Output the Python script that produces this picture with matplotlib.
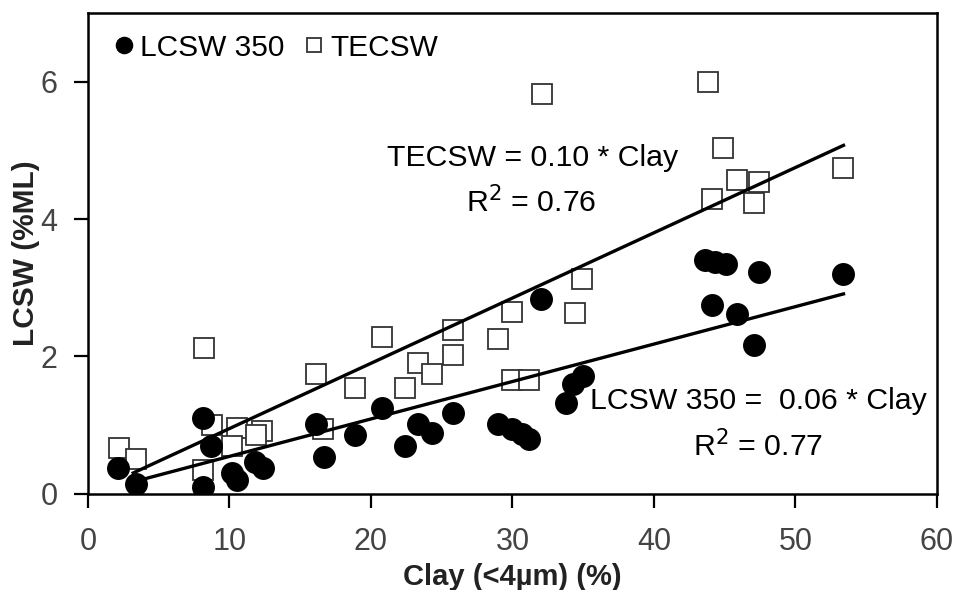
import matplotlib.pyplot as plt
import numpy as np

plt.rcParams['font.family'] = ['Liberation Sans', 'DejaVu Sans']

# TECSW (open squares)
tec_clay = [2.2, 3.4, 8.2, 8.8, 8.1, 10.5, 10.2, 12.3, 11.9, 16.1, 16.6,
            20.8, 18.9, 22.4, 23.3, 24.3, 25.8, 25.8, 29.0, 30.0, 30.0, 31.2,
            34.9, 34.4, 32.1, 43.8, 44.9, 45.9, 47.4, 44.1, 47.1, 53.4]
tec_val = [0.66, 0.51, 2.13, 1.00, 0.35, 0.96, 0.69, 0.92, 0.86, 1.74, 0.95,
           2.28, 1.54, 1.54, 1.91, 1.74, 2.39, 2.02, 2.26, 2.65, 1.65, 1.65,
           3.13, 2.63, 5.82, 6.00, 5.04, 4.57, 4.54, 4.29, 4.23, 4.74]

# LCSW 350 (filled dots)
lc_clay = [2.1, 3.4, 8.1, 8.1, 8.7, 10.2, 10.5, 11.8, 12.4, 16.1, 16.7,
           18.9, 20.8, 22.4, 23.3, 24.3, 25.8, 29.0, 30.0, 30.7, 31.2, 32.0,
           33.8, 34.3, 35.0, 43.6, 44.3, 45.1, 47.4, 44.1, 45.9, 47.1, 53.4]
lc_val = [0.38, 0.15, 0.10, 1.10, 0.70, 0.30, 0.20, 0.46, 0.37, 1.01, 0.53,
          0.85, 1.25, 0.69, 1.01, 0.89, 1.18, 1.01, 0.95, 0.87, 0.80, 2.84,
          1.32, 1.60, 1.71, 3.40, 3.37, 3.34, 3.23, 2.75, 2.62, 2.16, 3.20]

# fitted lines (through origin), drawn over the fitted clay range
tec_slope = 0.095
lc_slope = 0.0545
tec_range = [3.2, 53.4]
lc_range = [3.6, 53.4]

fig = plt.figure(figsize=(9.56, 5.9), dpi=100)
ax = fig.add_axes([0.092, 0.163, 0.888, 0.815])

ax.plot(lc_clay, lc_val, linestyle='none', marker='o', markersize=15.5,
        color='black', label='LCSW 350', zorder=3)
ax.plot(tec_clay, tec_val, linestyle='none', marker='s', markersize=14,
        markerfacecolor='white', markeredgecolor='#333333', markeredgewidth=1.3,
        label='TECSW', zorder=2)

xs = np.array(tec_range)
ax.plot(xs, tec_slope * xs, color='black', linewidth=2.4, zorder=4)
xs = np.array(lc_range)
ax.plot(xs, lc_slope * xs, color='black', linewidth=2.4, zorder=4)

ax.text(31.4, 4.89, 'TECSW = 0.10 * Clay', ha='center', va='center', fontsize=21.8)
ax.text(31.3, 4.24, 'R$^2$ = 0.76', ha='center', va='center', fontsize=21.8)
ax.text(47.4, 1.35, 'LCSW 350 =  0.06 * Clay', ha='center', va='center', fontsize=21.8)
ax.text(47.4, 0.70, 'R$^2$ = 0.77', ha='center', va='center', fontsize=21.8)

ax.set_xlim(0, 60)
ax.set_ylim(0, 7)
ax.set_xticks(range(0, 61, 10))
ax.set_yticks([0, 2, 4, 6])
ax.tick_params(direction='out', length=10, width=1.6, labelsize=22,
               labelcolor='#444444')
ax.tick_params(axis='x', pad=14)
ax.tick_params(axis='y', pad=12)
for s in ax.spines.values():
    s.set_linewidth(1.8)

ax.set_xlabel('Clay (<4µm) (%)', fontsize=21, fontweight='bold', color='#222222', labelpad=4)
ax.set_ylabel('LCSW (%ML)', fontsize=21.5, fontweight='bold', color='#222222', labelpad=0)

ax.legend(loc='upper left', ncol=2, frameon=False, fontsize=21.5, markerscale=0.75,
          handletextpad=0.05, columnspacing=0.5, handlelength=1.0,
          borderaxespad=0.3, bbox_to_anchor=(0.0, 1.0))

fig.savefig('out.png', dpi=100)
